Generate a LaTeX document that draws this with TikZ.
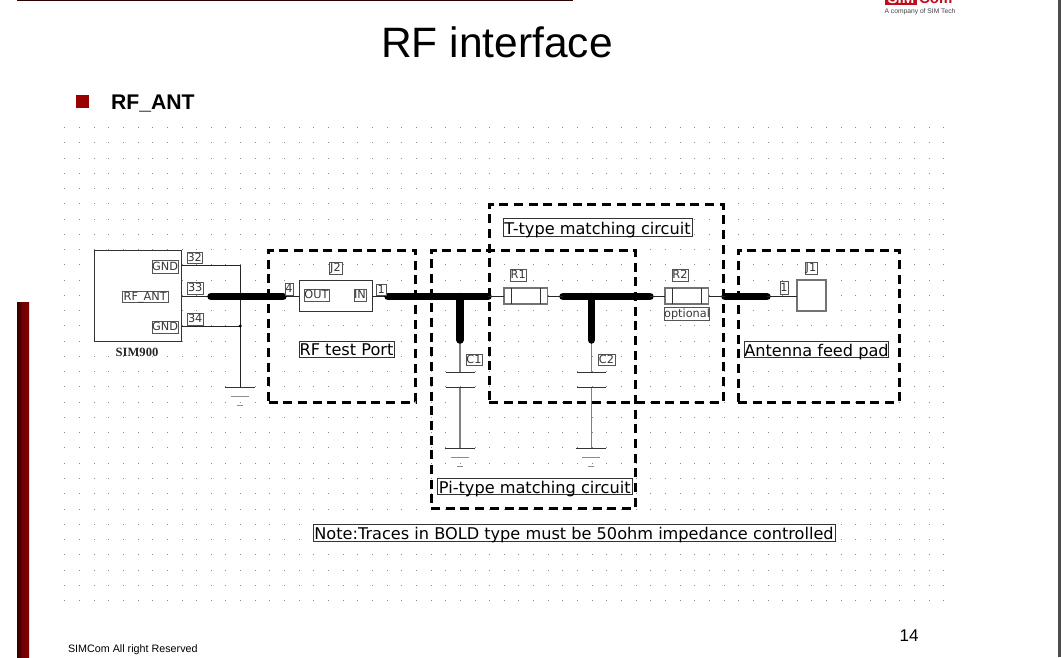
\documentclass[tikz,border=0pt]{standalone}
\usepackage{fontspec}
\setmainfont{Liberation Sans}
\newfontfamily\schem{DejaVu Sans}
\newfontfamily\serifb{Liberation Serif}
\definecolor{maroon}{HTML}{7A0000}
\definecolor{darkm}{HTML}{2E0000}
\definecolor{bullet}{HTML}{990000}
\definecolor{dotc}{HTML}{8C8C8C}
\definecolor{labc}{HTML}{555555}
\definecolor{logored}{HTML}{C00D1E}
\tikzset{
  griddot/.style={fill=dotc,draw=none},
  lab/.style={draw=labc,line width=0.9pt,inner sep=0pt,outer sep=0pt,font=\schem\fontsize{11.3}{11.3}\selectfont,text=black!78,fill=white,text height=8.5pt,text depth=1.5pt},
  biglab/.style={draw=black!80,line width=0.9pt,inner sep=0pt,outer sep=0pt,font=\schem\fontsize{16.15}{16.15}\selectfont,text=black,fill=white,text height=14.5pt,text depth=1pt},
  part/.style={draw=black!80,line width=1pt,inner sep=0pt,outer sep=0pt,fill=white},
  partg/.style={draw=black!55,line width=1.4pt,inner sep=0pt,outer sep=0pt,fill=white},
  wire/.style={draw=black!85,line width=1pt},
  gwire/.style={draw=black!50,line width=1.5pt},
  bold/.style={draw=black,line width=7.5pt,line cap=round},
  dashbox/.style={draw=black,line width=3pt,dash pattern=on 9pt off 5.7pt,inner sep=0pt,outer sep=0pt},
  plate/.style={draw=black!80,line width=1pt},
  pt/.style={inner sep=0pt,outer sep=0pt,minimum size=0pt},
}
\newcommand{\boxat}[6]{\node[#1,minimum width={(#5-#3)*1pt},minimum height={(#6-#4)*1pt}] (#2) at ({(#3+#5)/2},{(#4+#6)/2})}
\newcommand{\gnd}[3]{%
  \draw[plate] (#1-15,#2) -- (#1+15,#2);
  \draw[draw=black!45,line width=1pt] (#1-9,#2+9.5) -- (#1+9,#2+9.5);
  \draw[draw=black!45,line width=1pt] (#1-3,#2+18) -- (#1+3,#2+18);}
\begin{document}
\begin{tikzpicture}[x=1pt,y=-1pt]
\useasboundingbox (0,0) rectangle (1061,657);
\fill[white] (0,0) rectangle (1061,657);
% page furniture
\fill[black!70] (1058,0) rectangle (1061,657);
\fill[darkm] (17,0) rectangle (573,1.2);
\shade[left color=darkm,right color=maroon,middle color=maroon] (17,302) rectangle (29,657);
% dotted grid
\foreach \i in {0,...,60}{\foreach \j in {0,...,31}{
  \fill[griddot] ({64.3+14.65*\i},{127+15.26*\j}) rectangle +(1,1);}}
% logo
\begin{scope}
\clip (880,0) rectangle (960,8);
\fill[logored] (885,-6) rectangle (917,4.5);
\node[pt,anchor=base west,font=\bfseries\fontsize{15}{15}\selectfont,text=logored] at (919,3.5) {Com};
\node[pt,anchor=base,font=\bfseries\fontsize{15}{15}\selectfont,text=white] at (901,3.5) {SIM};
\end{scope}
\node[pt,anchor=base,font=\fontsize{6.7}{6.7}\selectfont,text=black!75] (tagline) at (920,13) {A company of SIM Tech};
% titles
\node[pt,anchor=base,font=\fontsize{42.5}{42.5}\selectfont] (title) at (497,57.5) {RF interface};
\fill[bullet] (76,95) rectangle (89,108);
\node[pt,anchor=base west,font=\bfseries\fontsize{21.2}{21.2}\selectfont] (sub) at (111,109) {RF\_ANT};
\node[pt,anchor=base east,font=\fontsize{17}{17}\selectfont] (pageno) at (918.5,641) {14};
\node[pt,anchor=base west,font=\fontsize{10.75}{10.75}\selectfont] (foot) at (68,652) {SIMCom All right Reserved};
% named points
\coordinate (b1a) at (211,296.5); \coordinate (b1b) at (283,296.5);
\coordinate (b2a) at (388,296.5); \coordinate (b2b) at (488,296.5);
\coordinate (b3a) at (563,296.5); \coordinate (b3b) at (650,296.5);
\coordinate (b4a) at (725,296.5); \coordinate (b4b) at (767,296.5);
\coordinate (t1) at (460,296.5); \coordinate (t1e) at (460,340);
\coordinate (t2) at (591.5,296.5); \coordinate (t2e) at (591.5,340);
\coordinate (gtop) at (240.3,265); \coordinate (gj) at (240.3,326); \coordinate (gbot) at (240.3,387);
% parts
\boxat{part}{sim}{94}{250}{181.7}{341}{};
\boxat{part}{j2}{299}{280.5}{372}{311}{};
\boxat{partg}{j1}{797}{280}{826}{311}{};
% wires
\draw[wire] (181.7,265) -- (gtop) -- (gj) -- (gbot);
\draw[wire] (181.7,296.5) -- (b1a);
\draw[wire] (181.7,326) -- (gj);
\fill[black] (gj) circle (1.6);
\gnd{240.3}{387}{}
\draw[wire] (b1b) -- (j2.west |- b1b);
\draw[wire] (j2.east |- b2a) -- (b2a);
% C1 / C2
\coordinate (c1a) at (460,372.5); \coordinate (c1b) at (460,387); \coordinate (c1g) at (460,448);
\coordinate (c2a) at (591.5,372.5); \coordinate (c2b) at (591.5,387); \coordinate (c2g) at (591.5,448);
\draw[gwire] (t1e) -- (c1a); \draw[gwire] (c1b) -- (c1g);
\draw[gwire] (t2e) -- (c2a); \draw[gwire] (c2b) -- (c2g);
\draw[plate] (445.5,372.5) -- (474.5,372.5); \draw[plate] (445.5,387) -- (474.5,387);
\draw[plate] (577,372.5) -- (606,372.5); \draw[plate] (577,387) -- (606,387);
\gnd{459.5}{448}{}
\gnd{591}{448}{}
% dashed boxes
\boxat{dashbox}{rfbox}{268.5}{250}{415.5}{402}{};
\boxat{dashbox}{tbox}{489}{204}{723}{402}{};
\boxat{dashbox}{pibox}{431}{250}{635.5}{508}{};
\boxat{dashbox}{antbox}{738}{250}{899}{402}{};
% bold traces
\draw[bold] (b1a) -- (b1b);
\draw[bold] (b2a) -- (b2b);
\draw[bold] (b3a) -- (b3b);
\draw[bold] (b4a) -- (b4b);
\draw[bold] (t1) -- (t1e);
\draw[bold] (t2) -- (t2e);
% resistors
\boxat{partg}{r1}{504}{288}{547.5}{304}{};
\boxat{partg}{r2}{665}{288}{708.5}{304}{};
\draw[wire] (b2b) -- (r1.west |- b2b);
\draw[wire] (r1.east |- b3a) -- (b3a);
\draw[wire] (b3b) -- (r2.west |- b3b);
\draw[wire] (r2.east |- b4a) -- (b4a);
\draw[wire] (b4b) -- (j1.west |- b4b);
\draw[plate] (511,288) -- (511,304); \draw[plate] (540,288) -- (540,304);
\draw[plate] (672,288) -- (672,304); \draw[plate] (701,288) -- (701,304);
% small labels
\boxat{lab}{gnda}{152}{260}{178}{273}{GND};
\boxat{lab}{rfant}{122}{291}{168.5}{302.5}{RF\_ANT};
\boxat{lab}{gndb}{152}{321}{178}{333.5}{GND};
\boxat{lab}{p32}{187.5}{252}{202}{263}{32};
\boxat{lab}{p33}{187.5}{282}{203}{294}{33};
\boxat{lab}{p34}{187.5}{313}{203}{325}{34};
\boxat{lab}{p4}{285}{283}{293}{295}{4};
\boxat{lab}{lj2}{329}{262}{342}{274}{J2};
\boxat{lab}{lout}{304}{289}{329}{301}{OUT};
\boxat{lab}{lin}{354}{289}{366}{301}{IN};
\boxat{lab}{p1}{376.5}{284}{386}{295}{1};
\boxat{lab}{lr1}{510.5}{269}{526}{281}{R1};
\boxat{lab}{lr2}{672}{269}{688}{281}{R2};
\boxat{lab}{lopt}{664.5}{307.5}{709.5}{320}{optional};
\boxat{lab}{lc1}{466}{354.5}{482}{365}{C1};
\boxat{lab}{lc2}{598}{354.5}{615}{365}{C2};
\boxat{lab}{pj1}{780}{281}{788}{294}{1};
\boxat{lab}{lj1}{805}{262}{817}{274}{J1};
\node[pt,anchor=base,font=\serifb\bfseries\fontsize{12.6}{12.6}\selectfont,text=black!85] (simname) at (137,356.5) {SIM900};
% big labels
\boxat{biglab}{ltt}{503}{218.5}{692}{236}{T-type matching circuit};
\boxat{biglab}{lpi}{437.5}{478}{632}{494.5}{Pi-type matching circuit};
\boxat{biglab}{lrf}{299}{341}{394}{357}{RF test Port};
\boxat{biglab}{lant}{745}{341}{888}{357.5}{Antenna feed pad};
\boxat{biglab}{lnote}{313}{524}{835}{541}{Note:Traces in BOLD type must be 50ohm impedance controlled};
\end{tikzpicture}
\end{document}
